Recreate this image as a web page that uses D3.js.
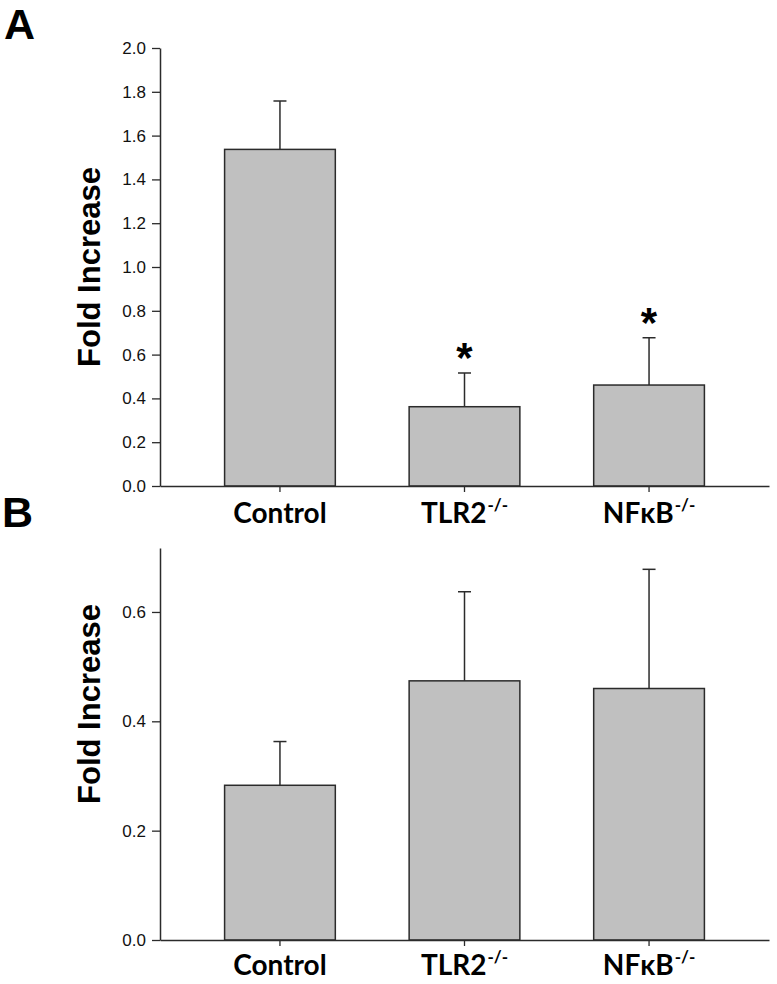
<!DOCTYPE html>
<html>
<head>
<meta charset="utf-8">
<script src="https://cdn.jsdelivr.net/npm/d3@7"></script>
<style>
  html, body { margin: 0; padding: 0; background: #fff; }
  svg { display: block; }
</style>
</head>
<body>
<svg id="chart" width="777" height="984"></svg>
<script>
// ---- data ----
const categories = ["Control", "TLR2", "NFκB"];
const superscripts = ["", "-/-", "-/-"];

const meansA = [1.537, 0.362, 0.461];
const errorsA = [0.221, 0.154, 0.216];
const significantA = [false, true, true];
const ticksA = [0, 0.2, 0.4, 0.6, 0.8, 1.0, 1.2, 1.4, 1.6, 1.8, 2.0];
const domainA = [0, 2.0];

const meansB = [0.283, 0.474, 0.460];
const errorsB = [0.080, 0.163, 0.218];
const significantB = [false, false, false];
const ticksB = [0, 0.2, 0.4, 0.6];
const domainB = [0, 0.717];

const panelLabels = ["A", "B"];
const yTitle = "Fold Increase";

// ---- drawing ----
const svg = d3.select("#chart");
const tickFont = "'Liberation Sans', Arial, sans-serif";
const catFont = "Lato, 'Open Sans', sans-serif";
const ink = "#2b2b2b";

function drawPanel(cfg) {
  const g = svg.append("g");
  const x = d3.scaleBand().domain(categories).range([160, 769])
    .paddingInner(0.4).paddingOuter(0.35);
  const y = d3.scaleLinear().domain(cfg.domain).range([cfg.bottom, cfg.top]);

  // bars
  g.selectAll("rect.bar").data(cfg.means).join("rect")
    .attr("class", "bar")
    .attr("x", (d, i) => x(categories[i]))
    .attr("width", x.bandwidth())
    .attr("y", d => y(d))
    .attr("height", d => y(0) - y(d))
    .attr("fill", "#c0c0c0")
    .attr("stroke", ink)
    .attr("stroke-width", 1.5);

  // error bars (upper only)
  const capHalf = 6.5;
  cfg.means.forEach((m, i) => {
    const cx = x(categories[i]) + x.bandwidth() / 2;
    const yt = y(m + cfg.errors[i]);
    g.append("line").attr("x1", cx).attr("x2", cx)
      .attr("y1", y(m)).attr("y2", yt)
      .attr("stroke", ink).attr("stroke-width", 1.5);
    g.append("line").attr("x1", cx - capHalf).attr("x2", cx + capHalf)
      .attr("y1", yt).attr("y2", yt)
      .attr("stroke", ink).attr("stroke-width", 1.5);
    if (cfg.sig[i]) {
      g.append("text").attr("x", cx).attr("y", yt - 1)
        .attr("text-anchor", "middle")
        .attr("font-family", tickFont).attr("font-weight", "bold")
        .attr("font-size", 42).attr("fill", "#000")
        .text("*");
    }
  });

  // y axis
  const yAxis = d3.axisLeft(y).tickValues(cfg.ticks)
    .tickFormat(d3.format(".1f")).tickSize(8).tickSizeOuter(0).tickPadding(6);
  const ya = g.append("g").attr("transform", "translate(160,0)").call(yAxis);
  ya.select(".domain").attr("stroke", ink).attr("stroke-width", 1.5);
  ya.selectAll(".tick line").attr("stroke", ink).attr("stroke-width", 1.3);
  ya.selectAll(".tick text").attr("font-family", tickFont)
    .attr("font-size", 17).attr("fill", "#111");

  // x axis
  const xAxis = d3.axisBottom(x).tickSize(6).tickSizeOuter(0).tickPadding(20);
  const xa = g.append("g").attr("transform", `translate(0,${cfg.bottom})`).call(xAxis);
  xa.select(".domain").attr("stroke", ink).attr("stroke-width", 1.5);
  xa.selectAll(".tick line").attr("stroke", ink).attr("stroke-width", 1.3);
  xa.selectAll(".tick text").each(function(d, i) {
    const t = d3.select(this);
    t.text(null).attr("y", cfg.labelOffset).attr("dy", null)
      .attr("font-family", catFont).attr("font-weight", "bold")
      .attr("font-size", 28).attr("fill", "#000");
    t.append("tspan").text(categories[i]);
    if (superscripts[i]) {
      t.append("tspan").attr("font-size", 17).attr("dy", -12)
        .attr("dx", 1).text(superscripts[i]);
    }
  });

  // y title
  g.append("text")
    .attr("transform", `translate(100,${cfg.titleY}) rotate(-90)`)
    .attr("text-anchor", "middle")
    .attr("font-family", tickFont).attr("font-weight", "bold")
    .attr("font-size", 31).attr("fill", "#000")
    .text(yTitle);

  // panel letter
  g.append("text").attr("x", cfg.letterX).attr("y", cfg.letterY)
    .attr("font-family", tickFont).attr("font-weight", "bold")
    .attr("font-size", 43).attr("fill", "#000")
    .text(cfg.letter);
}

drawPanel({
  means: meansA, errors: errorsA, sig: significantA, ticks: ticksA,
  domain: domainA, top: 48, bottom: 486, labelOffset: 43 - 6,
  titleY: 267, letter: panelLabels[0], letterX: 4, letterY: 39
});
drawPanel({
  means: meansB, errors: errorsB, sig: significantB, ticks: ticksB,
  domain: domainB, top: 548, bottom: 940, labelOffset: 41 - 6,
  titleY: 704, letter: panelLabels[1], letterX: 2, letterY: 527
});
</script>
</body>
</html>
